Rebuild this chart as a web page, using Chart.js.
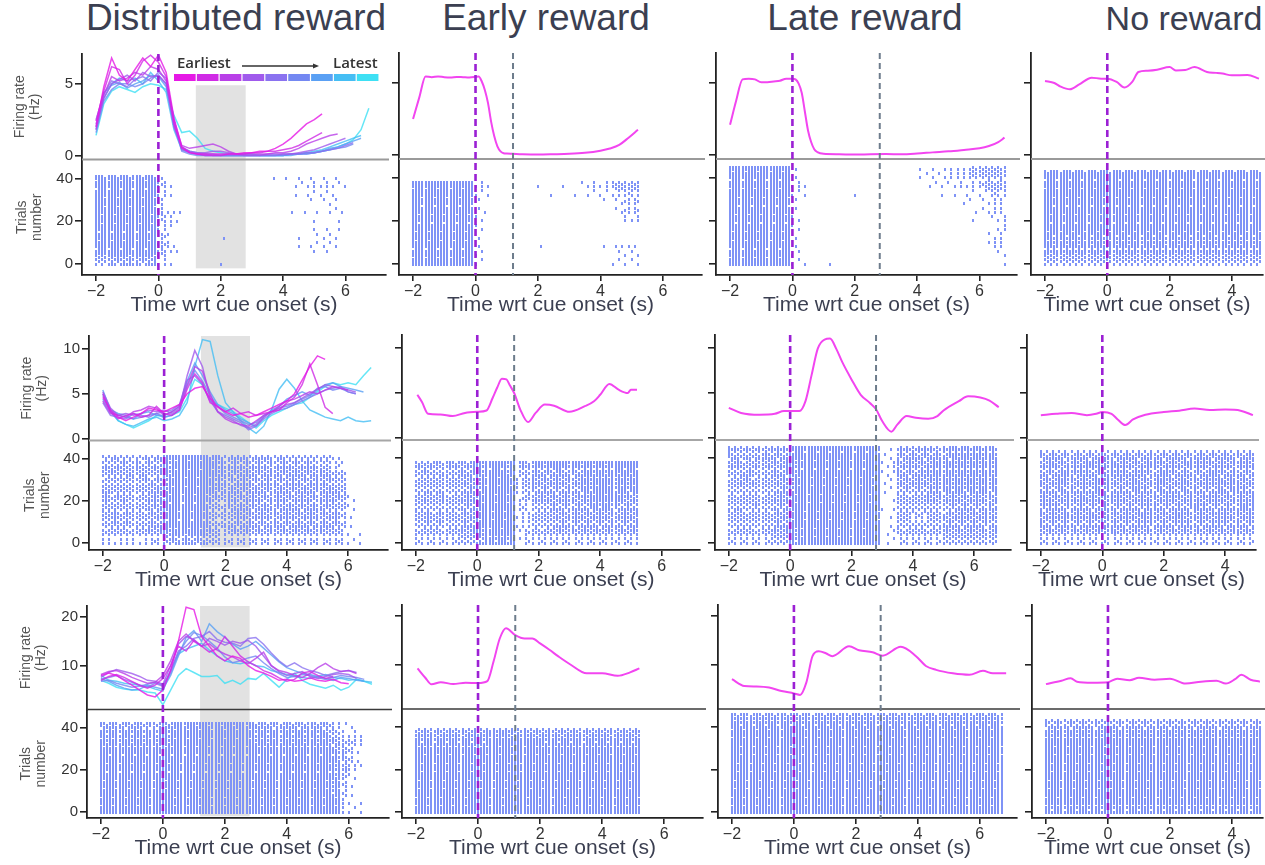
<!DOCTYPE html>
<html><head><meta charset="utf-8">
<script src="https://cdn.jsdelivr.net/npm/chart.js@4.4.0/dist/chart.umd.min.js"></script>
<style>
html,body{margin:0;padding:0;background:#fff;}
#fig{position:relative;width:1265px;height:865px;overflow:hidden;font-family:"Liberation Sans",Arial,Helvetica,sans-serif;background:#fff;}
.ttl{position:absolute;top:-2px;transform:translateX(-50%);line-height:40px;color:#3b3f51;white-space:nowrap;}
canvas{position:absolute;}
</style></head><body><div id="fig"></div>
<script>
// ===================== DATA =====================
const colTitles = ['Distributed reward', 'Early reward', 'Late reward', 'No reward'];
const xTitle = 'Time wrt cue onset (s)';
const frTitle = ['Firing rate', '(Hz)'];
const rasterTitle = ['Trials', 'number'];
const legendText = ['Earliest', 'Latest'];
const epochColors = ['#e619e6', '#d02ae6', '#b940e8', '#a05aec', '#8a72f0', '#7488f2', '#5aa0f4', '#45bef4', '#3ee0f4'];
const xTicksLong = [-2, 0, 2, 4, 6];
const xTicksShort = [-2, 0, 2, 4];
const frTicks = [[0, 5], [0, 5, 10], [10, 20]];
const trialTicks = [0, 20, 40];
const rewardTime = [null, 1.2, 2.8, null];
const shadeWindow = [1.2, 2.8];

// common time grid for the distributed-reward traces
const tDist = [-2,-1.75,-1.5,-1.25,-1,-0.75,-0.5,-0.25,0,0.25,0.5,0.75,1,1.25,1.5,1.75,2,2.25,2.5,2.75,3,3.25,3.5,3.75,4,4.25,4.5,4.75,5,5.25,5.5,5.75,6,6.25,6.5,6.75];

// Row 1, distributed reward: 9 epochs (earliest -> latest)
const r1Dist = [
  [2.0,4.8,6.8,5.6,5.2,6.0,6.8,6.2,7.0,5.8,2.6,0.6,0.2,0.1,0.1,0.1,0.1,0.1,0.1,0.2,0.2,0.3,0.3,0.5,0.8,1.2,1.7,2.2,2.5,2.9],
  [2.4,4.5,6.2,6.0,5.0,5.6,6.6,7.0,6.5,5.5,2.2,0.5,0.2,0.1,0.0,0.0,0.0,0.1,0.1,0.1,0.2,0.2,0.3,0.3,0.4,0.5,0.7,1.0,1.3,1.6],
  [1.8,4.2,5.5,5.2,5.4,5.8,5.6,6.2,6.0,5.2,2.4,0.7,0.5,0.6,0.7,0.8,0.6,0.3,0.1,0.1,0.1,0.1,0.1,0.2,0.2,0.3,0.5,0.8,1.0,1.2,1.4,1.5],
  [2.2,4.0,5.0,5.3,5.6,5.2,5.8,5.5,5.6,5.0,2.0,0.6,0.3,0.2,0.2,0.3,0.3,0.2,0.1,0.0,0.0,0.0,0.1,0.1,0.1,0.1,0.2,0.3,0.4,0.6,0.8,1.0,1.2],
  [2.5,4.3,5.2,5.0,4.8,5.3,5.5,5.2,5.8,5.4,2.5,0.4,0.2,0.1,0.1,0.0,0.0,0.0,0.0,0.0,0.0,0.0,0.0,0.0,0.1,0.1,0.1,0.2,0.2,0.3,0.4,0.5,0.7,0.9],
  [1.6,3.8,4.6,5.0,5.0,4.8,5.0,5.4,5.6,5.0,2.2,0.3,0.1,0.0,0.0,0.0,0.0,0.0,0.0,0.0,0.0,0.0,0.0,0.0,0.0,0.1,0.1,0.1,0.2,0.3,0.4,0.5,0.6,0.8],
  [2.0,4.4,4.9,5.1,4.7,5.0,5.2,5.6,5.5,4.8,2.0,0.5,0.3,0.2,0.1,0.1,0.0,0.0,0.0,0.0,0.0,0.0,0.0,0.0,0.0,0.0,0.1,0.1,0.2,0.3,0.5,0.6,0.8,1.0,1.2],
  [1.8,4.0,5.0,5.4,5.2,5.4,5.0,5.8,5.2,4.4,1.8,0.4,0.2,0.1,0.0,0.0,0.0,0.0,0.0,0.0,0.0,0.0,0.0,0.0,0.0,0.1,0.1,0.2,0.3,0.4,0.6,0.8,1.0,1.2,1.4],
  [1.4,3.6,4.5,4.8,4.6,4.4,4.8,5.0,4.9,4.6,2.8,1.6,1.7,1.2,0.5,0.3,0.2,0.1,0.1,0.1,0.1,0.0,0.0,0.0,0.0,0.1,0.1,0.2,0.2,0.3,0.4,0.6,0.8,1.1,1.8,3.3]
];
// Row 2, distributed reward
const r2Dist = [
  [4.6,3.2,2.4,2.0,2.4,2.8,3.4,3.2,3.0,3.4,3.8,5.0,5.6,5.8,4.5,3.5,3.0,2.6,2.8,2.4,2.6,3.0,3.4,3.8,4.2,5.0,6.5,8.0,9.2,8.8],
  [5.0,3.0,2.2,2.6,2.8,2.4,2.6,3.6,2.8,2.6,3.2,5.5,7.2,6.2,4.0,3.6,3.0,3.4,2.8,3.0,2.6,2.8,3.0,3.2,4.0,4.6,6.0,8.3,6.0,3.5,2.8],
  [4.2,2.8,2.6,2.4,3.0,3.2,3.6,3.4,2.6,3.0,3.6,6.0,8.0,7.5,5.0,3.0,2.2,1.8,1.6,1.4,2.0,2.6,3.0,3.6,4.2,4.4,4.8,5.2,5.0,5.4,5.8,5.6,5.4],
  [5.2,3.4,2.6,2.8,2.6,2.8,3.2,3.0,3.2,2.8,3.4,7.0,9.8,8.0,4.5,3.0,2.4,2.0,1.5,1.2,1.6,2.4,3.0,3.4,3.8,4.0,4.5,5.0,5.5,6.0,5.8,5.6,5.4,5.2],
  [4.0,2.6,2.4,2.2,2.8,2.6,2.4,2.8,3.0,3.2,3.8,6.5,7.0,6.0,4.2,3.0,2.6,2.2,1.8,1.0,1.4,2.2,2.8,3.2,3.4,3.8,4.2,4.6,5.0,5.4,5.6,5.8,5.2,5.0],
  [4.8,3.0,2.6,2.4,2.2,2.4,2.6,2.8,2.4,2.6,3.2,5.8,7.6,6.4,4.8,3.6,2.8,2.4,2.0,1.6,1.8,2.6,3.0,3.4,3.6,4.0,4.4,4.8,5.6,5.8,5.4,5.6,5.2,5.0],
  [5.4,3.2,2.8,2.6,2.2,2.8,3.0,2.6,2.6,3.0,3.6,6.4,8.4,7.0,5.2,3.8,3.2,2.8,2.2,1.8,1.4,2.4,3.2,3.6,4.4,4.8,5.2,4.8,5.4,6.0,6.2,5.8,5.6,5.4,5.2],
  [4.4,3.0,2.0,1.6,1.4,1.8,2.2,2.4,2.0,2.2,2.6,4.0,8.0,11.0,10.8,7.0,4.0,3.0,2.0,1.2,0.6,1.4,3.2,5.5,6.6,5.6,4.2,3.2,2.8,2.4,2.2,2.0,2.4,2.0,1.9,2.0],
  [5.0,3.2,2.0,1.6,1.2,1.6,2.0,2.6,2.4,2.6,3.0,4.5,6.6,6.0,4.2,3.8,3.4,3.0,2.4,1.8,1.2,2.0,2.6,3.0,3.4,3.8,4.0,4.6,5.2,5.8,6.2,6.0,6.2,6.0,7.0,7.9]
];
// Row 3, distributed reward
const r3Dist = [
  [8.0,8.5,8.0,7.0,6.0,5.0,4.0,3.6,5.0,9.0,15.0,22.0,21.5,16.0,14.0,12.0,11.0,12.0,11.5,10.0,9.0,8.5,7.8,7.0,7.2,6.8,7.0,7.5,7.0,6.8,7.2,6.5,6.3],
  [7.0,7.8,8.2,7.6,6.8,6.0,5.4,6.0,7.4,10.0,14.0,13.0,15.2,14.0,12.8,13.5,16.0,14.0,12.0,10.8,10.0,9.0,8.4,7.5,6.8,7.2,8.5,8.8,8.0,7.4,7.8],
  [8.2,8.8,9.0,8.4,7.6,7.0,6.4,6.6,8.0,11.0,15.0,16.5,15.0,14.0,14.5,13.2,12.4,11.8,11.0,10.4,11.5,12.8,10.0,9.0,8.6,8.0,7.6,8.4,9.6,10.5,9.4,8.8,9.0,8.4],
  [7.6,8.6,9.2,8.8,8.4,7.8,7.0,6.8,6.2,10.0,14.4,16.0,15.4,14.0,15.6,15.0,14.2,15.0,14.6,15.2,14.0,12.0,10.0,8.8,8.0,8.4,8.8,7.8,7.4,7.8,8.2,8.4,8.2,7.4],
  [7.2,7.6,8.0,7.2,6.6,6.0,5.6,6.4,5.8,9.0,13.0,14.0,15.6,16.0,17.0,15.4,14.8,14.6,14.0,15.6,15.8,14.4,12.6,11.0,9.8,10.6,9.6,9.0,8.6,8.0,8.4,8.8,9.0,8.6],
  [6.8,7.0,6.4,6.0,5.6,5.8,6.2,6.6,6.0,8.4,12.6,15.0,16.8,16.2,15.0,13.6,11.8,10.6,11.0,11.6,12.0,10.6,9.4,8.4,7.6,7.8,8.2,8.0,7.6,7.2,7.6,8.0,7.8,7.6,7.2],
  [7.4,6.8,6.0,5.4,5.0,5.2,6.0,5.6,5.2,8.0,12.0,15.8,17.2,15.0,18.6,17.0,15.8,14.4,13.4,14.0,15.0,13.6,12.2,10.8,9.6,9.0,8.4,8.2,7.8,7.4,7.0,7.6,7.4,7.0,6.8],
  [8.0,7.0,6.8,6.4,6.2,6.0,5.8,5.2,4.8,9.0,12.4,13.4,14.0,14.6,13.2,12.0,11.0,10.6,10.4,10.8,10.0,9.8,9.0,8.6,8.2,7.8,7.6,7.4,7.8,8.2,7.6,7.4,7.0,7.2,6.8,6.6],
  [7.0,6.4,5.6,5.2,5.0,5.0,4.6,4.4,2.0,5.0,8.0,9.4,8.6,7.8,7.8,8.0,6.4,7.0,6.2,7.4,7.2,8.4,7.0,5.6,7.2,8.4,7.0,6.2,5.8,5.4,6.0,5.0,5.6,7.2,6.8,6.2]
];

// Single-condition mean firing rates (time, Hz)
const r1EarlyT = [-2,-1.8,-1.6,-1.4,-1.2,-1,-0.8,-0.6,-0.4,-0.2,0,0.1,0.2,0.3,0.4,0.5,0.6,0.7,0.8,0.9,1.0,1.2,1.5,2,2.5,3,3.5,4,4.3,4.6,4.9,5.2];
const r1EarlyY = [2.5,4.0,5.45,5.4,5.45,5.4,5.38,5.42,5.4,5.38,5.42,5.45,5.1,4.5,3.6,2.3,1.3,0.6,0.25,0.12,0.1,0.08,0.05,0.03,0.05,0.08,0.15,0.3,0.45,0.7,1.2,1.75];
const r1LateT = [-2,-1.8,-1.6,-1.4,-1.2,-1,-0.8,-0.6,-0.4,-0.2,0,0.1,0.2,0.3,0.4,0.5,0.6,0.7,0.8,1,1.5,2,2.5,3,3.5,4,4.5,5,5.5,6,6.3,6.6,6.8];
const r1LateY = [2.1,3.8,5.25,5.3,5.25,5.05,5.05,5.1,5.15,5.3,5.3,5.25,4.95,4.3,3.0,1.7,0.9,0.4,0.2,0.08,0.05,0.03,0.05,0.06,0.05,0.1,0.18,0.25,0.35,0.46,0.62,0.9,1.2];
const r1NoT = [-2,-1.7,-1.5,-1.2,-0.9,-0.5,-0.2,0,0.3,0.55,0.8,1.0,1.3,1.6,2.0,2.2,2.5,2.8,3.2,3.5,3.7,4.0,4.5,4.87];
const r1NoY = [5.14,5.0,4.75,4.56,4.9,5.37,5.3,5.3,5.07,4.68,5.07,5.76,5.85,5.92,6.1,5.87,5.9,6.1,5.76,5.7,5.65,5.53,5.55,5.3];
const r2EarlyT = [-1.95,-1.8,-1.6,-1.2,-0.8,-0.4,0,0.3,0.5,0.65,0.8,0.95,1.05,1.2,1.4,1.65,1.9,2.2,2.5,3.0,3.5,3.8,4.0,4.3,4.6,4.9,5.0,5.2];
const r2EarlyY = [4.8,4.0,2.7,2.63,2.45,2.8,2.92,3.07,4.45,5.6,6.57,6.5,5.9,5.0,3.17,1.79,2.8,3.72,3.6,2.92,3.54,4.09,4.8,6.0,5.36,5.0,5.35,5.36];
const r2LateT = [-2,-1.6,-1,-0.5,-0.2,0,0.3,0.5,0.7,0.9,1.12,1.3,1.5,1.7,2.0,2.3,2.6,2.8,3.0,3.3,3.5,3.8,4.1,4.5,4.8,5.0,5.5,5.8,6.2,6.5,6.8];
const r2LateY = [3.36,2.8,2.6,2.7,3.0,3.0,3.0,4.1,7.0,9.9,10.9,11.0,9.9,8.4,6.5,4.8,3.9,3.2,1.9,0.73,1.53,2.45,2.26,2.15,2.45,3.07,4.1,4.63,4.5,4.16,3.43];
const r2NoT = [-2,-1.5,-1,-0.5,-0.2,0,0.3,0.5,0.75,1.0,1.4,2.0,2.5,3.0,3.5,4.0,4.5,4.9];
const r2NoY = [2.55,2.7,2.8,2.55,2.7,2.9,2.7,2.08,1.46,2.08,2.6,2.9,3.05,3.28,3.13,3.17,3.05,2.55];
const r3EarlyT = [-1.95,-1.7,-1.5,-1.2,-0.8,-0.4,0,0.3,0.5,0.7,0.9,1.2,1.5,1.75,2.0,2.3,2.6,3.0,3.5,4.0,4.5,4.9,5.2];
const r3EarlyY = [9.3,7.4,6.05,6.5,6.1,6.4,6.3,6.7,10.7,15.4,17.5,16.1,15.4,15.4,14.4,13.1,11.7,10.0,8.3,8.3,7.8,8.5,9.3];
const r3LateT = [-2,-1.6,-1.2,-0.8,-0.4,0,0.2,0.4,0.6,0.8,1.03,1.24,1.78,2.1,2.54,2.86,3.45,3.94,4.26,4.59,5.13,5.66,6.1,6.42,6.85];
const r3LateY = [7.1,5.7,5.6,5.4,4.7,4.2,3.9,6.4,11.8,12.8,12.4,11.8,13.8,13.0,12.6,11.9,13.7,11.8,9.8,9.0,8.3,8.0,8.8,8.3,8.3];
const r3NoT = [-2,-1.5,-1.2,-1,-0.5,0,0.3,0.7,1.0,1.5,2.0,2.5,3.0,3.5,3.8,4.1,4.3,4.6,4.9];
const r3NoY = [6.1,6.8,7.3,6.6,6.4,6.5,7.2,6.9,7.4,7.0,7.2,6.2,6.6,6.8,6.2,7.1,8.0,7.0,6.6];

// Raster trial counts and last spike time per panel
const trialsN = [[42, 39, 46, 44], [42, 39, 46, 44], [43, 40, 47, 44]];
const rasterEnd = [[6.7, 5.2, 6.8, 4.9], [6.8, 5.2, 6.8, 4.9], [6.8, 5.2, 6.8, 4.9]];

// Raster spike density: one string per block of 5 trials (top block first),
// one digit (0 = no spikes ... 9 = every bin) per 0.25 s from -2 s.
const r1DistRaster = [
  "7777 7777 3100 0000 0000 0011 1222 2211 0000",
  "8888 8888 4200 0000 0010 0001 1323 3332 1000",
  "8888 8888 3100 0000 0000 0000 0112 2221 0000",
  "8888 8888 4100 0000 0000 0000 0001 1121 0000",
  "8888 8888 5331 0000 0001 0000 0111 1111 0000",
  "8888 8888 4200 0010 0000 0000 0001 1111 0000",
  "8888 8888 4200 0000 1000 0000 0011 2121 0000",
  "8888 8888 5420 0000 0000 0001 0112 2211 0000",
  "5566 6666 3100 0000 1000 0000 0000 0000 0000"
];
const r1EarlyRaster = [
  "8888 8888 3100 0010 1011 1223 3455 5000 0000",
  "8888 8888 2100 0000 0110 1112 2334 4000 0000",
  "8888 8888 2000 0000 0000 0000 0124 4000 0000",
  "8888 8888 2100 0000 0000 0000 0013 3000 0000",
  "8888 8888 2000 0000 0000 0000 0000 0000 0000",
  "8888 8888 2000 0000 0000 0000 0001 1000 0000",
  "8888 8888 2100 0000 1000 0000 1233 3000 0000",
  "8888 8888 2000 0000 0000 0000 0122 2000 0000"
];
const r1LateRaster = [
  "8888 8888 3100 1000 0000 0001 1222 3345 5555",
  "8888 8888 3100 0000 0000 0001 1122 2334 4555",
  "8888 8888 2100 0000 1000 0000 0011 1122 2344",
  "8888 8888 2100 0000 0000 0100 0001 1011 2233",
  "8888 8888 2000 0000 0000 0000 0000 0001 0233",
  "8888 8888 2000 0000 0100 0000 0000 0000 0033",
  "8888 8888 2000 0000 0000 0000 0000 0001 0233",
  "8888 8888 3100 0000 0000 0000 0000 0001 0233",
  "8888 8888 2100 1000 0000 0000 0000 0000 0012"
];
const r1NoRaster = [
  "8888 8888 8888 8888 8888 8888 8888 0000 0000",
  "8888 8888 8888 8888 8888 8888 8888 0000 0000",
  "8888 8888 8888 8888 8888 8888 8888 0000 0000",
  "8888 8888 8888 8888 8888 8888 8888 0000 0000",
  "8888 8888 8888 8888 8888 8888 8888 0000 0000",
  "8888 8888 8888 8888 8888 8888 8888 0000 0000",
  "7777 7777 7777 7777 7777 7777 7777 0000 0000",
  "7777 7777 7777 7777 7777 7777 7777 0000 0000",
  "5555 5555 5555 5555 5555 5555 5555 0000 0000"
];
const r2DistRaster = [
  "5656 5656 7888 8877 6666 6666 5555 5540 0000",
  "6565 6565 7888 8887 6666 6666 6666 5542 0000",
  "5656 5656 7888 8877 6666 6666 6666 6655 0000",
  "5555 5566 7888 8876 6666 6666 6666 6655 0000",
  "6565 5566 7888 8865 6666 6666 6666 6665 2000",
  "5555 5566 7888 8754 6666 6666 6666 6655 2000",
  "5656 5566 7888 8754 5666 6666 6666 6664 1000",
  "5555 5566 7888 8764 6666 6666 6666 6654 1000",
  "3333 3344 5666 6654 4444 4444 4444 4443 2100"
];
const r2EarlyRaster = [
  "6565 6666 7888 7367 7888 7777 7888 8000 0000",
  "5656 5566 7888 7356 6666 6677 7777 7000 0000",
  "5555 5566 7888 8356 6666 6677 8877 7000 0000",
  "5656 5566 7888 8356 6666 6678 8876 6000 0000",
  "5555 5566 7888 8345 5566 6667 7766 6000 0000",
  "5656 5566 7888 8345 5566 6666 6666 6000 0000",
  "5555 5566 7888 8345 5566 6666 6666 6000 0000",
  "4444 4455 6777 7244 4444 4444 4444 4000 0000"
];
const r2LateRaster = [
  "6565 6666 7888 8888 8888 2366 6666 6777 7770",
  "6656 5666 7888 8888 8888 2366 6667 7777 7770",
  "5565 5566 7888 8888 8888 2266 6677 7777 7770",
  "5656 5566 7888 8888 8888 1266 6667 7777 7770",
  "5555 5566 7888 8888 8888 1255 5566 6666 6660",
  "5656 5566 7888 8888 8888 1255 5555 5666 6660",
  "5555 5566 7888 8888 8888 1255 4455 6666 6660",
  "5555 5566 7888 8888 8888 1255 5555 6666 6660",
  "4444 4455 7888 8888 8888 1244 4444 5555 5550"
];
const r2NoRaster = [
  "6666 6666 6666 6666 6666 6666 6666 0000 0000",
  "6766 6676 6766 6676 6667 6766 6676 0000 0000",
  "6667 6766 6676 6766 7666 6676 6666 0000 0000",
  "6676 6667 6666 7667 6676 6667 6766 0000 0000",
  "6666 6766 6766 6666 6766 6676 6667 0000 0000",
  "6766 6666 6667 6676 6666 7666 6676 0000 0000",
  "6667 6676 6666 6766 6676 6667 6666 0000 0000",
  "6666 6666 6766 6666 6666 6666 6766 0000 0000",
  "4444 4444 4444 4444 4444 4444 4444 0000 0000"
];
const r3DistRaster = [
  "6666 6565 6777 7777 7777 6666 6666 6542 1100",
  "7777 7777 7888 8888 8888 7777 7777 7654 3200",
  "7777 7777 7888 8888 8888 7777 7777 7765 4300",
  "8888 8888 8888 8888 8888 8888 8888 8876 4200",
  "8888 8888 8888 8888 8888 8888 8888 8876 4200",
  "8888 8888 8888 8888 8888 8888 8888 8875 2000",
  "8888 8888 8888 8888 8888 8888 8888 8874 1000",
  "8888 8888 8888 8888 8888 8888 8888 8874 1000",
  "8888 8888 8888 8888 8888 8888 8888 8874 2100"
];
const r3EarlyRaster = [
  "6666 6666 6777 6666 6666 6666 6666 6000 0000",
  "7777 7777 7888 8888 7777 7777 7777 7000 0000",
  "8888 8888 8888 8888 8888 8888 8888 8000 0000",
  "8888 8888 8888 8888 8888 8888 8888 8000 0000",
  "8888 8888 8888 8888 8888 8888 8888 8000 0000",
  "8888 8888 8888 8888 8888 8888 8888 8000 0000",
  "8888 8888 8888 8888 8888 8888 8888 8000 0000",
  "8888 8888 8888 8888 8888 8888 8888 8000 0000"
];
const r3LateRaster = [
  "6666 6666 6666 6666 6666 6666 6666 6666 6660",
  "7777 7777 7777 7777 7777 7777 7777 7777 7770",
  "8888 8888 8888 8888 8888 8888 8888 8888 8880",
  "8888 8888 8888 8888 8888 8888 8888 8888 8880",
  "8888 8888 8888 8888 8888 8888 8888 8888 8880",
  "8888 8888 8888 8888 8888 8888 8888 8888 8880",
  "8888 8888 8888 8888 8888 8888 8888 8888 8880",
  "8888 8888 8888 8888 8888 8888 8888 8888 8880",
  "8888 8888 8888 8888 8888 8888 8888 8888 8880",
  "8888 8888 8888 8888 8888 8888 8888 8888 8880"
];
const r3NoRaster = [
  "6666 6666 6666 6666 6666 6666 6666 0000 0000",
  "7777 7777 7777 7777 7777 7777 7777 0000 0000",
  "8888 8888 8888 8888 8888 8888 8888 0000 0000",
  "8888 8888 8888 8888 8888 8888 8888 0000 0000",
  "8888 8888 8888 8888 8888 8888 8888 0000 0000",
  "8888 8888 8888 8888 8888 8888 8888 0000 0000",
  "8888 8888 8888 8888 8888 8888 8888 0000 0000",
  "8888 8888 8888 8888 8888 8888 8888 0000 0000",
  "7777 7777 7777 7777 7777 7777 7777 0000 0000"
];

// ===================== LAYOUT / STYLE =====================
const titleX = [236, 546, 865, 1184];
const titleSize = [37, 37, 37, 34];
const rowGeo = [
  {top: 53,  sep: 159, bot: 275, pps: 31.2, frMin: -0.28, frMax: 7.08,  trMin: -5.1, trMax: 48.8, sepColor: '#9a9a9a', sepW: 2,   shadeTop: 4.9,   yPadF: 12, yPadR: 14},
  {top: 335, sep: 440, bot: 550, pps: 30.7, frMin: -0.19, frMax: 11.4,  trMin: -3.2, trMax: 48.6, sepColor: '#a6a6a6', sepW: 2,   shadeTop: 11.4,  yPadF: 19, yPadR: 22},
  {top: 605, sep: 709, bot: 818, pps: 31.0, frMin: 1.02,  frMax: 22.24, trMin: -2.8, trMax: 48.6, sepColor: '#3a3a3a', sepW: 1.3, shadeTop: 22.24, yPadF: 18, yPadR: 18}
];
const spineX = [[82, 399, 716, 1031], [89, 402, 715, 1027], [87, 402, 718, 1032]];
const X_MIN = -2.45;
const xMaxCol = [7.3, 7.25, 7.2, 5.0];
const PAD_T = 10, PAD_R = 6, X_AXIS_H = 43;
const RASTER_T0 = -2, RASTER_DT = 0.1, BIN_W = 0.25, TRIAL_GROUP = 5;
// fill fraction for each density digit (rendering lookup)
const DIGIT_FILL = [0, 0.05, 0.12, 0.2, 0.32, 0.48, 0.66, 0.82, 0.94, 1];
const BAYER = [
  [0,32,8,40,2,34,10,42],[48,16,56,24,50,18,58,26],[12,44,4,36,14,46,6,38],[60,28,52,20,62,30,54,22],
  [3,35,11,43,1,33,9,41],[51,19,59,27,49,17,57,25],[15,47,7,39,13,45,5,37],[63,31,55,23,61,29,53,21]
];

const distLines = [r1Dist, r2Dist, r3Dist];
const singleT = [[null, r1EarlyT, r1LateT, r1NoT], [null, r2EarlyT, r2LateT, r2NoT], [null, r3EarlyT, r3LateT, r3NoT]];
const singleY = [[null, r1EarlyY, r1LateY, r1NoY], [null, r2EarlyY, r2LateY, r2NoY], [null, r3EarlyY, r3LateY, r3NoY]];
const rasters = [
  [r1DistRaster, r1EarlyRaster, r1LateRaster, r1NoRaster],
  [r2DistRaster, r2EarlyRaster, r2LateRaster, r2NoRaster],
  [r3DistRaster, r3EarlyRaster, r3LateRaster, r3NoRaster]
];

function hexA(h, a) {
  const n = parseInt(h.slice(1), 16);
  return `rgba(${(n >> 16) & 255},${(n >> 8) & 255},${n & 255},${a})`;
}
function rasterPoints(grid, nTrials, tEnd) {
  const rows = grid.map(s => s.replace(/\s+/g, ''));
  const pts = [];
  for (let j = 0; j < nTrials; j++) {
    const row = rows[Math.max(0, rows.length - 1 - Math.floor(j / TRIAL_GROUP))];
    for (let k = 0; ; k++) {
      const t = Math.round((RASTER_T0 + k * RASTER_DT) * 100) / 100;
      if (t > tEnd + 1e-9) break;
      const d = +(row[Math.floor((t - RASTER_T0) / BIN_W + 1e-9)] || 0);
      const frac = DIGIT_FILL[d];
      if ((BAYER[j % 8][(k + 3 * Math.floor(j / 8)) % 8] + 0.5) / 64 < frac) pts.push({x: t, y: j});
    }
  }
  return pts;
}
function dotImage(w, h, color) {
  const c = document.createElement('canvas');
  c.width = w; c.height = h;
  const g = c.getContext('2d');
  g.fillStyle = color; g.fillRect(0, 0, w, h);
  return c;
}
const DOT = dotImage(2, 3, '#7f93f6');

const panelPlugin = {
  id: 'panel',
  beforeDatasetsDraw(chart, args, o) {
    if (!o.shade) return;
    const {ctx, scales: {x, yF, yR}} = chart;
    const x0 = x.getPixelForValue(shadeWindow[0]), x1 = x.getPixelForValue(shadeWindow[1]);
    const y0 = yF.getPixelForValue(o.shadeTop), y1 = yR.getPixelForValue(-2);
    ctx.save(); ctx.fillStyle = '#e2e2e2'; ctx.fillRect(x0, y0, x1 - x0, y1 - y0); ctx.restore();
  },
  afterDatasetsDraw(chart, args, o) {
    const {ctx, chartArea: ca, scales: {x, yF}} = chart;
    ctx.save();
    ctx.strokeStyle = o.sepColor; ctx.lineWidth = o.sepW;
    ctx.beginPath(); ctx.moveTo(ca.left, yF.bottom); ctx.lineTo(ca.right + 3, yF.bottom); ctx.stroke();
    if (o.reward != null && o.reward !== false) {
      const px = x.getPixelForValue(o.reward);
      ctx.strokeStyle = '#6d7c8c'; ctx.lineWidth = 2; ctx.setLineDash([6, 4]);
      ctx.beginPath(); ctx.moveTo(px, ca.top); ctx.lineTo(px, ca.bottom); ctx.stroke();
    }
    const p0 = x.getPixelForValue(0);
    ctx.strokeStyle = '#9b20d4'; ctx.lineWidth = 2.6; ctx.setLineDash([7, 4]);
    ctx.beginPath(); ctx.moveTo(p0, ca.top); ctx.lineTo(p0, ca.bottom); ctx.stroke();
    ctx.setLineDash([]);
    if (o.legend) {
      const L = ca.left + 92, T = ca.top, w = 22.85;
      epochColors.forEach((col, i) => { ctx.fillStyle = col; ctx.fillRect(L + i * w, T + 20, w - 1.2, 7); });
      ctx.fillStyle = '#333'; ctx.font = '600 15px "Open Sans", "Liberation Sans", Arial';
      ctx.textBaseline = 'alphabetic';
      ctx.textAlign = 'left'; ctx.fillText(legendText[0], L + 3, T + 14);
      ctx.textAlign = 'right'; ctx.fillText(legendText[1], L + 9 * w - 2, T + 14);
      ctx.strokeStyle = '#333'; ctx.lineWidth = 1.3;
      ctx.beginPath(); ctx.moveTo(L + 68, T + 12); ctx.lineTo(L + 140, T + 12); ctx.stroke();
      ctx.fillStyle = '#333'; ctx.beginPath();
      ctx.moveTo(L + 145, T + 12); ctx.lineTo(L + 139, T + 9.5); ctx.lineTo(L + 139, T + 14.5); ctx.closePath(); ctx.fill();
    }
    ctx.restore();
  }
};

Chart.defaults.font.family = '"Liberation Sans", Arial, Helvetica, sans-serif';
const fig = document.getElementById('fig');
colTitles.forEach((t, i) => {
  const d = document.createElement('div');
  d.className = 'ttl'; d.style.left = titleX[i] + 'px'; d.style.fontSize = titleSize[i] + 'px'; d.textContent = t;
  fig.appendChild(d);
});

const axisLine = {drawOnChartArea: false, drawTicks: true, color: '#222', lineWidth: 1.6};
const border = {display: true, color: '#222', width: 1.8};

for (let r = 0; r < 3; r++) {
  for (let c = 0; c < 4; c++) {
    const g = rowGeo[r];
    const spine = spineX[r][c];
    const axisW = c === 0 ? spine : 14;
    const xMax = xMaxCol[c];
    const W = Math.round(axisW + (xMax - X_MIN) * g.pps + PAD_R);
    const H = PAD_T + (g.bot - g.top) + X_AXIS_H;
    const cv = document.createElement('canvas');
    cv.width = W; cv.height = H;
    cv.style.left = (spine - axisW) + 'px'; cv.style.top = (g.top - PAD_T) + 'px';
    cv.style.width = W + 'px'; cv.style.height = H + 'px';
    fig.appendChild(cv);

    const datasets = [];
    if (c === 0) {
      distLines[r].forEach((arr, i) => datasets.push({
        data: arr.map((v, k) => ({x: tDist[k], y: v})),
        showLine: true, borderColor: hexA(epochColors[i], 0.8), borderWidth: 1.5,
        pointRadius: 0, tension: 0, fill: false, yAxisID: 'yF'
      }));
    } else {
      const T = singleT[r][c], Y = singleY[r][c];
      datasets.push({
        data: T.map((t, k) => ({x: t, y: Y[k]})),
        showLine: true, borderColor: '#f245f0', borderWidth: 2, pointRadius: 0,
        cubicInterpolationMode: 'monotone', fill: false, yAxisID: 'yF'
      });
    }
    datasets.push({
      data: rasterPoints(rasters[r][c], trialsN[r][c], rasterEnd[r][c]),
      showLine: false, pointStyle: DOT, pointRadius: 1, yAxisID: 'yR'
    });

    const xt = c === 3 ? xTicksShort : xTicksLong;
    new Chart(cv, {
      type: 'scatter',
      data: {datasets},
      plugins: [panelPlugin],
      options: {
        responsive: false, animation: false, events: [],
        layout: {padding: {top: PAD_T, right: PAD_R, left: 0, bottom: 0}},
        plugins: {
          legend: {display: false}, tooltip: {enabled: false},
          panel: {sepColor: g.sepColor, sepW: g.sepW, reward: rewardTime[c] === null ? false : rewardTime[c],
                  shade: c === 0, shadeTop: g.shadeTop, legend: r === 0 && c === 0}
        },
        scales: {
          x: {
            type: 'linear', position: 'bottom', min: X_MIN, max: xMax,
            afterBuildTicks: s => { s.ticks = xt.map(v => ({value: v})); },
            afterFit: s => { s.height = X_AXIS_H; },
            grid: Object.assign({tickLength: 6}, axisLine), border,
            ticks: {font: {size: 16}, color: '#333', padding: 1, maxRotation: 0, autoSkip: false,
                    callback: v => v < 0 ? '\u2212' + (-v) : '' + v},
            title: {display: true, text: xTitle, font: {size: 21}, color: '#3b3f51', padding: 0}
          },
          yR: {
            type: 'linear', position: 'left', stack: 'p', stackWeight: g.bot - g.sep, weight: 0,
            min: g.trMin, max: g.trMax,
            afterBuildTicks: s => { s.ticks = trialTicks.map(v => ({value: v})); },
            afterFit: s => { s.width = axisW; },
            grid: Object.assign({tickLength: 7}, axisLine), border,
            ticks: {display: c === 0, font: {size: 15}, color: '#333', padding: 2},
            title: {display: c === 0, text: rasterTitle, font: {size: 14, lineHeight: 1.1}, color: '#555', padding: {top: g.yPadR, bottom: 0}}
          },
          yF: {
            type: 'linear', position: 'left', stack: 'p', stackWeight: g.sep - g.top, weight: 1,
            min: g.frMin, max: g.frMax,
            afterBuildTicks: s => { s.ticks = frTicks[r].map(v => ({value: v})); },
            afterFit: s => { s.width = axisW; },
            grid: Object.assign({tickLength: 7}, axisLine), border,
            ticks: {display: c === 0, font: {size: 15}, color: '#333', padding: 2},
            title: {display: c === 0, text: frTitle, font: {size: 14, lineHeight: 1.1}, color: '#555', padding: {top: g.yPadF, bottom: 0}}
          }
        }
      }
    });
  }
}
</script></body></html>
